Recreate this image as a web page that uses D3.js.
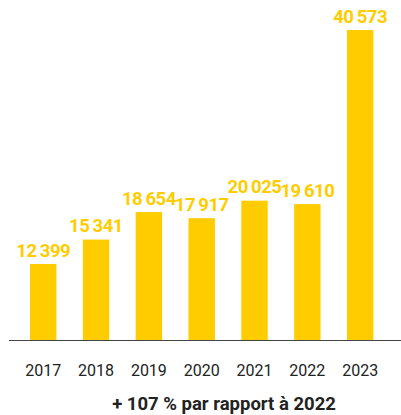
<!DOCTYPE html>
<html>
<head>
<meta charset="utf-8">
<script src="https://cdn.jsdelivr.net/npm/d3@7"></script>
<style>
  html, body { margin: 0; padding: 0; background: #fff; }
  svg { display: block; }
</style>
</head>
<body>
<div id="chart"></div>
<script>
var years = ['2017', '2018', '2019', '2020', '2021', '2022', '2023'];
var values = [12399, 15341, 18654, 17917, 20025, 19610, 40573];
var footnote = '+ 107 % par rapport à 2022';

var width = 401;
var height = 415;
var baseline = 340.5;
var yellow = '#ffcc00';

var svg = d3.select('#chart').append('svg')
  .attr('width', width)
  .attr('height', height);

var x = d3.scaleBand()
  .domain(years)
  .range([16.8, 386.6])
  .paddingInner(0.5)
  .paddingOuter(0.25);

// the axis does not start at zero in the original
var y = d3.scaleLinear()
  .domain([3190, 40573])
  .range([baseline, 30]);

function fmt (v) {
  return d3.format(',')(v).replace(',', '\u2009');
}

svg.append('g')
  .selectAll('rect')
  .data(values)
  .enter()
  .append('rect')
  .attr('x', function (d, i) { return x(years[i]); })
  .attr('y', function (d) { return y(d); })
  .attr('width', x.bandwidth())
  .attr('height', function (d) { return baseline - y(d); })
  .attr('fill', yellow);

svg.append('g')
  .selectAll('text')
  .data(values)
  .enter()
  .append('text')
  .attr('x', function (d, i) { return x(years[i]) + x.bandwidth() / 2; })
  .attr('y', function (d) { return y(d) - 7.5; })
  .attr('text-anchor', 'middle')
  .attr('font-family', 'Roboto, sans-serif')
  .attr('font-weight', 700)
  .attr('font-size', 18.5)
  .attr('letter-spacing', -0.5)
  .attr('fill', yellow)
  .text(fmt);

svg.append('line')
  .attr('x1', 9)
  .attr('x2', width)
  .attr('y1', baseline)
  .attr('y2', baseline)
  .attr('stroke', '#444')
  .attr('stroke-width', 1);

var xAxis = svg.append('g')
  .attr('transform', 'translate(0,' + baseline + ')')
  .call(d3.axisBottom(x).tickSize(0).tickPadding(24));
xAxis.select('.domain').remove();
xAxis.selectAll('text')
  .attr('font-family', 'Roboto, sans-serif')
  .attr('font-size', 16)
  .attr('fill', '#222');

svg.append('text')
  .attr('x', 224)
  .attr('y', 410)
  .attr('text-anchor', 'middle')
  .attr('font-family', 'Roboto, sans-serif')
  .attr('font-weight', 700)
  .attr('font-size', 18.5)
  .attr('fill', '#222')
  .text(footnote);
</script>
</body>
</html>
